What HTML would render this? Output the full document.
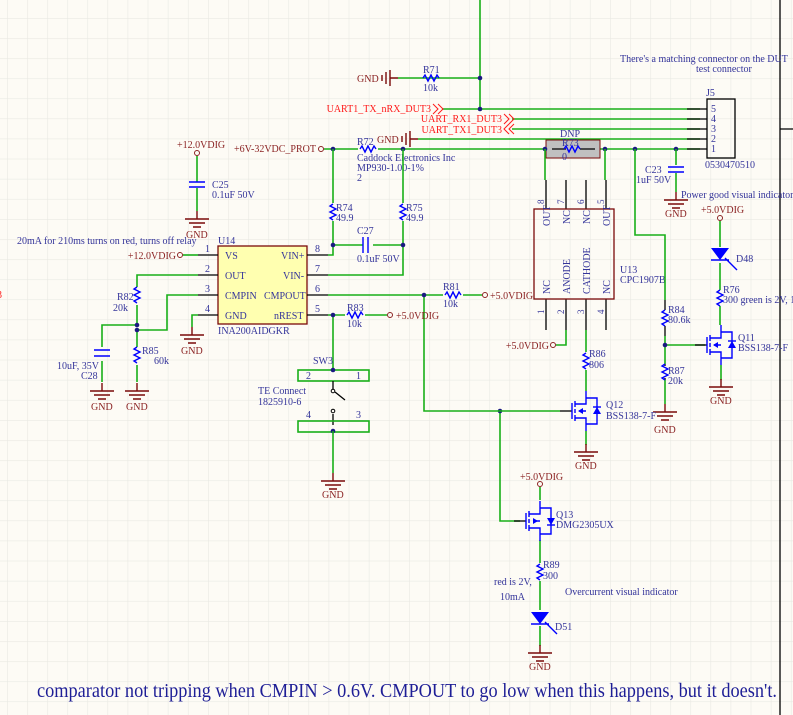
<!DOCTYPE html>
<html><head><meta charset="utf-8"><style>
html,body{margin:0;padding:0;background:#fdfbf5;}
svg{display:block;font-family:"Liberation Serif",serif;}
.w{stroke:#19b019;stroke-width:1.6;fill:none}
.k{stroke:#000;stroke-width:1.3;fill:none}
.b{stroke:#0000ff;stroke-width:1.4;fill:none}
.r{stroke:#7a0a0a;stroke-width:1.4;fill:none}
.t{fill:#34349a;font-size:10px}
.p{fill:#8b2323;font-size:10px}
.n{fill:#ff1a1a;font-size:10px}
.j{fill:#1a1a80}
</style></head><body>
<svg width="793" height="715" viewBox="0 0 793 715" xmlns="http://www.w3.org/2000/svg">
<defs>
<pattern id="g" x="7" y="18" width="20.1" height="20.1" patternUnits="userSpaceOnUse">
<path d="M0 0H20.1M0 0V20.1" stroke="#e9e9e3" stroke-width="1.2" fill="none"/>
</pattern>
<g id="gnd"><path class="r" d="M0 -8V0M-12 0H12M-8 4H8M-4 8H4"/></g>
<g id="rh"><path class="b" d="M-8 0L-6 -3L-3 3L0 -3L3 3L6 -3L8 0"/></g>
<g id="rv"><path class="b" d="M0 -8L-3 -6L3 -3L-3 0L3 3L-3 6L0 8"/></g>
<g id="nm">
<path class="k" d="M-15 0H-3"/>
<path class="b" d="M-3 -8V8M0 -10V-4M0 -2V2M0 4V10M0 -7H11V-13H22V13H11V7H0M11 0H4M11 -13V-20M11 13V20"/>
<path d="M3 0L8 -3V3Z" fill="#0000ff"/>
<path d="M22 -4L18 3H26Z" fill="#0000ff"/><path class="b" d="M18 -4H26"/>
</g>
<g id="pm">
<path class="k" d="M-15 0H-3"/>
<path class="b" d="M-3 -8V8M0 -10V-4M0 -2V2M0 4V10M0 -7H11V-13H22V13H11V7H0M11 0H4M11 -13V-20M11 13V20"/>
<path d="M9 0L4 -3V3Z" fill="#0000ff"/>
<path d="M22 4L18 -3H26Z" fill="#0000ff"/><path class="b" d="M18 4H26"/>
</g>
<g id="led"><path d="M-9 -6H9L0 6Z" fill="#0000ff"/><path class="b" d="M-9 6H9M5 4L13 12M9 8L17 16"/></g>
</defs>
<rect width="793" height="715" fill="#fdfbf5"/>
<rect width="793" height="715" fill="url(#g)"/>

<path d="M780 0V715M780 129H793" stroke="#000" stroke-width="1.3"/>

<path class="w" d="M480 0V109M398 78H480M442 109H700M512 119H700M512 129H700M418 139H700M324 149H700"/>
<circle class="j" cx="480" cy="78" r="2.3"/><circle class="j" cx="480" cy="109" r="2.3"/>
<path class="r" d="M390 78H398M390 70V86M386 72V84M382 75V81"/>
<text class="p" x="357" y="82">GND</text>
<use href="#rh" x="431" y="78"/>
<text class="t" x="423" y="73">R71</text><text class="t" x="423" y="91">10k</text>
<text class="n" x="431" y="112" text-anchor="end">UART1_TX_nRX_DUT3</text>
<path d="M433 104L438 109L433 114M438 104L443 109L438 114" stroke="#ff1a1a" fill="none"/>
<text class="n" x="502" y="122" text-anchor="end">UART_RX1_DUT3</text>
<path d="M504 114L509 119L504 124M509 114L514 119L509 124" stroke="#ff1a1a" fill="none"/>
<text class="n" x="502" y="133" text-anchor="end">UART_TX1_DUT3</text>
<path d="M509 124L504 129L509 134M514 124L509 129L514 134" stroke="#ff1a1a" fill="none"/>
<path class="r" d="M410 139H418M410 131V147M406 133V145M402 136V142"/>
<text class="p" x="377" y="143">GND</text>
<path class="k" d="M687 109H707M687 119H707M687 129H707M687 139H707M687 149H707"/>
<rect x="707" y="99" width="28" height="59" fill="none" stroke="#000" stroke-width="1.3"/>
<text class="t" x="711" y="112">5</text><text class="t" x="711" y="122">4</text><text class="t" x="711" y="132">3</text><text class="t" x="711" y="142">2</text><text class="t" x="711" y="152">1</text>
<text class="t" x="706" y="96">J5</text><text class="t" x="705" y="168">0530470510</text>
<text class="t" x="620" y="62">There's a matching connector on the DUT</text>
<text class="t" x="696" y="72">test connector</text>
<text class="p" x="316" y="152" text-anchor="end">+6V-32VDC_PROT</text>
<circle cx="321" cy="149" r="2.5" fill="none" stroke="#8b2323"/>
<circle class="j" cx="333" cy="149" r="2.3"/><circle class="j" cx="403" cy="149" r="2.3"/>
<rect x="358" y="144" width="20" height="10" fill="#fdfbf5"/>
<use href="#rh" x="368" y="149"/>
<text class="t" x="357" y="145">R72</text>
<text class="t" x="357" y="161">Caddock Electronics Inc</text>
<text class="t" x="357" y="171">MP930-1.00-1%</text>
<text class="t" x="357" y="181">2</text>
<rect x="546" y="140" width="54" height="18" fill="#c0c0c0" stroke="#7a0a0a"/>
<path class="k" d="M552 149H566M580 149H595"/><use href="#rh" x="572" y="149"/>
<text class="t" x="560" y="137">DNP</text><text class="t" x="562" y="146">R73</text><text class="t" x="562" y="160">0</text>
<circle class="j" cx="545" cy="149" r="2.3"/><circle class="j" cx="605" cy="149" r="2.3"/><circle class="j" cx="635" cy="149" r="2.3"/><circle class="j" cx="676" cy="149" r="2.3"/>
<path class="w" d="M676 149V165M676 173V192"/>
<path class="b" d="M668 167H684M668 172H684"/>
<use href="#gnd" x="676" y="200"/>
<text class="p" x="665" y="217">GND</text>
<text class="t" x="645" y="173">C23</text><text class="t" x="636" y="183">1uF 50V</text>
<text class="t" x="681" y="198">Power good visual indicator</text>

<path class="w" d="M545 149V180M605 149V180"/>
<path class="k" d="M546 180V209M566 180V209M586 180V209M606 180V209M546 299V330M566 299V330M586 299V330M606 299V330"/>
<rect x="534" y="209" width="80" height="90" fill="none" stroke="#7a0a0a" stroke-width="1.3"/>
<g class="t" font-size="10">
<text transform="translate(550,226) rotate(-90)">OUT</text>
<text transform="translate(570,224) rotate(-90)">NC</text>
<text transform="translate(590,224) rotate(-90)">NC</text>
<text transform="translate(610,226) rotate(-90)">OUT</text>
<text transform="translate(550,294) rotate(-90)">NC</text>
<text transform="translate(570,294) rotate(-90)">ANODE</text>
<text transform="translate(590,294) rotate(-90)">CATHODE</text>
<text transform="translate(610,294) rotate(-90)">NC</text>
<text transform="translate(544,204) rotate(-90)" font-size="9">8</text>
<text transform="translate(564,204) rotate(-90)" font-size="9">7</text>
<text transform="translate(584,204) rotate(-90)" font-size="9">6</text>
<text transform="translate(604,204) rotate(-90)" font-size="9">5</text>
<text transform="translate(544,314) rotate(-90)" font-size="9">1</text>
<text transform="translate(564,314) rotate(-90)" font-size="9">2</text>
<text transform="translate(584,314) rotate(-90)" font-size="9">3</text>
<text transform="translate(604,314) rotate(-90)" font-size="9">4</text>
</g>
<text class="t" x="620" y="273">U13</text><text class="t" x="620" y="283">CPC1907B</text>
<path class="w" d="M566 330V345H556"/>
<circle cx="553" cy="345" r="2.5" fill="none" stroke="#8b2323"/>
<text class="p" x="549" y="349" text-anchor="end">+5.0VDIG</text>

<path class="w" d="M635 149V235H665V300M665 336V364M665 380V404M665 345H705"/>
<path class="k" d="M665 300V310M665 326V336M665 364V366M665 378V380"/>
<use href="#rv" x="665" y="318"/><use href="#rv" x="665" y="372"/>
<circle class="j" cx="665" cy="345" r="2.3"/>
<text class="t" x="668" y="313">R84</text><text class="t" x="668" y="323">80.6k</text>
<text class="t" x="668" y="374">R87</text><text class="t" x="668" y="384">20k</text>
<use href="#gnd" x="665" y="412"/><text class="p" x="654" y="433">GND</text>
<text class="p" x="701" y="213">+5.0VDIG</text>
<circle cx="720" cy="218" r="2.5" fill="none" stroke="#8b2323"/>
<path class="w" d="M720 221V247M720 263V290M720 306V325"/>
<use href="#led" x="720" y="254"/>
<text class="t" x="736" y="262">D48</text>
<use href="#rv" x="720" y="298"/>
<text class="t" x="723" y="293">R76</text><text class="t" x="723" y="303">300   green is 2V, 1</text>
<use href="#nm" x="710" y="345"/>
<text class="t" x="738" y="341">Q11</text><text class="t" x="738" y="351">BSS138-7-F</text>
<path class="w" d="M721 365V380"/>
<use href="#gnd" x="721" y="387"/><text class="p" x="710" y="404">GND</text>

<path class="w" d="M586 330V352M586 370V391M586 431V445"/>
<use href="#rv" x="586" y="361"/>
<text class="t" x="589" y="357">R86</text><text class="t" x="589" y="368">806</text>
<use href="#nm" x="575" y="411"/>
<text class="t" x="606" y="408">Q12</text><text class="t" x="606" y="419">BSS138-7-F</text>
<use href="#gnd" x="586" y="452"/><text class="p" x="575" y="469">GND</text>

<text class="p" x="520" y="480">+5.0VDIG</text>
<circle cx="540" cy="484" r="2.5" fill="none" stroke="#8b2323"/>
<path class="w" d="M540 487V500M540 540V563M540 581V610M540 626V646M500 411V521H520"/>
<circle class="j" cx="500" cy="411" r="2.3"/>
<use href="#pm" x="529" y="521"/>
<text class="t" x="556" y="518">Q13</text><text class="t" x="556" y="528">DMG2305UX</text>
<use href="#rv" x="540" y="572"/>
<text class="t" x="543" y="568">R89</text><text class="t" x="543" y="579">300</text>
<text class="t" x="494" y="585">red is 2V,</text><text class="t" x="500" y="600">10mA</text>
<text class="t" x="565" y="595">Overcurrent visual indicator</text>
<use href="#led" x="540" y="618"/><text class="t" x="555" y="630">D51</text>
<use href="#gnd" x="540" y="653"/><text class="p" x="529" y="670">GND</text>

<path class="w" d="M328 295H443M463 295H482M424 295V411H560"/>
<use href="#rh" x="453" y="295"/>
<circle class="j" cx="424" cy="295" r="2.3"/>
<text class="t" x="443" y="290">R81</text><text class="t" x="443" y="307">10k</text>
<circle cx="485" cy="295" r="2.5" fill="none" stroke="#8b2323"/>
<text class="p" x="490" y="299">+5.0VDIG</text>

<rect x="218" y="246" width="89" height="78" fill="#ffffb0" stroke="#7a0a0a" stroke-width="1.3"/>
<path class="k" d="M198 255H218M198 275H218M198 295H218M198 315H218M307 255H328M307 275H328M307 295H328M307 315H328"/>
<g class="t" font-size="10">
<text x="225" y="259">VS</text><text x="225" y="279">OUT</text><text x="225" y="299">CMPIN</text><text x="225" y="319">GND</text>
<text x="281" y="259">VIN+</text><text x="283" y="279">VIN-</text><text x="264" y="299">CMPOUT</text><text x="274" y="319">nREST</text>
<text x="205" y="252">1</text><text x="205" y="272">2</text><text x="205" y="292">3</text><text x="205" y="312">4</text>
<text x="315" y="252">8</text><text x="315" y="272">7</text><text x="315" y="292">6</text><text x="315" y="312">5</text>
</g>
<text class="t" x="218" y="244">U14</text><text class="t" x="218" y="334">INA200AIDGKR</text>
<text class="t" x="17" y="244">20mA for 210ms turns on red, turns off relay</text>
<text class="n" x="-3" y="298">3</text>
<text class="p" x="176" y="259" text-anchor="end">+12.0VDIG</text>
<circle cx="180" cy="255" r="2.5" fill="none" stroke="#8b2323"/>
<path class="w" d="M183 255H198"/>
<text class="p" x="177" y="148">+12.0VDIG</text>
<circle cx="197" cy="153" r="2.5" fill="none" stroke="#8b2323"/>
<path class="w" d="M197 156V182M197 188V211"/>
<path class="b" d="M189 182H205M189 187H205"/>
<text class="t" x="212" y="188">C25</text><text class="t" x="212" y="198">0.1uF 50V</text>
<use href="#gnd" x="197" y="219"/><text class="p" x="186" y="238">GND</text>
<path class="w" d="M333 149V203M333 221V255H328M403 149V203M403 221V275H328M333 245H363M373 245H403"/>
<use href="#rv" x="333" y="212"/><use href="#rv" x="403" y="212"/>
<path class="b" d="M363 237V253M368 237V253"/>
<circle class="j" cx="333" cy="245" r="2.3"/><circle class="j" cx="403" cy="245" r="2.3"/>
<text class="t" x="336" y="211">R74</text><text class="t" x="336" y="221">49.9</text>
<text class="t" x="406" y="211">R75</text><text class="t" x="406" y="221">49.9</text>
<text class="t" x="357" y="234">C27</text><text class="t" x="357" y="262">0.1uF 50V</text>
<path class="w" d="M328 315H345M365 315H387M333 315V370"/>
<use href="#rh" x="355" y="315"/>
<circle class="j" cx="333" cy="315" r="2.3"/>
<text class="t" x="347" y="311">R83</text><text class="t" x="347" y="327">10k</text>
<circle cx="390" cy="315" r="2.5" fill="none" stroke="#8b2323"/>
<text class="p" x="396" y="319">+5.0VDIG</text>
<text class="t" x="313" y="364">SW3</text>
<rect x="298" y="370" width="71" height="11" fill="none" stroke="#19b019" stroke-width="1.6"/>
<circle class="j" cx="333" cy="370" r="2.3"/>
<text class="t" x="306" y="379" font-size="9">2</text><text class="t" x="356" y="379" font-size="9">1</text>
<path class="k" d="M333 381V389M335 392L345 400M333 425V414"/>
<circle cx="333" cy="391" r="1.8" fill="none" stroke="#000"/><circle cx="333" cy="411" r="1.8" fill="none" stroke="#000"/>
<text class="t" x="258" y="394">TE Connect</text><text class="t" x="258" y="405">1825910-6</text>
<rect x="298" y="421" width="71" height="11" fill="none" stroke="#19b019" stroke-width="1.6"/>
<text class="t" x="306" y="418" font-size="9">4</text><text class="t" x="356" y="418" font-size="9">3</text>
<circle class="j" cx="333" cy="431" r="2.3"/>
<path class="w" d="M333 431V473"/>
<use href="#gnd" x="333" y="481"/><text class="p" x="322" y="498">GND</text>
<path class="w" d="M198 275H137V325H102V347M102 361V382M198 295H167V330H137V382"/>
<path class="b" d="M94 350H110M94 356H110"/>
<rect x="133" y="287" width="8" height="18" fill="#fdfbf5"/><use href="#rv" x="137" y="295"/>
<rect x="133" y="347" width="8" height="18" fill="#fdfbf5"/><use href="#rv" x="137" y="355"/>
<circle class="j" cx="137" cy="325" r="2.3"/><circle class="j" cx="137" cy="330" r="2.3"/>
<text class="t" x="117" y="300">R82</text><text class="t" x="113" y="311">20k</text>
<text class="t" x="142" y="354">R85</text><text class="t" x="154" y="364">60k</text>
<text class="t" x="57" y="369">10uF, 35V</text><text class="t" x="81" y="379">C28</text>
<use href="#gnd" x="102" y="391"/><text class="p" x="91" y="410">GND</text>
<use href="#gnd" x="137" y="391"/><text class="p" x="126" y="410">GND</text>
<path class="w" d="M198 315H192V327"/>
<use href="#gnd" x="192" y="335"/><text class="p" x="181" y="354">GND</text>

<text x="37" y="697" fill="#1e1e96" font-size="20" textLength="740" lengthAdjust="spacingAndGlyphs">comparator not tripping when  CMPIN &gt; 0.6V. CMPOUT to go low when this happens, but it doesn't.</text>
</svg>
</body></html>
